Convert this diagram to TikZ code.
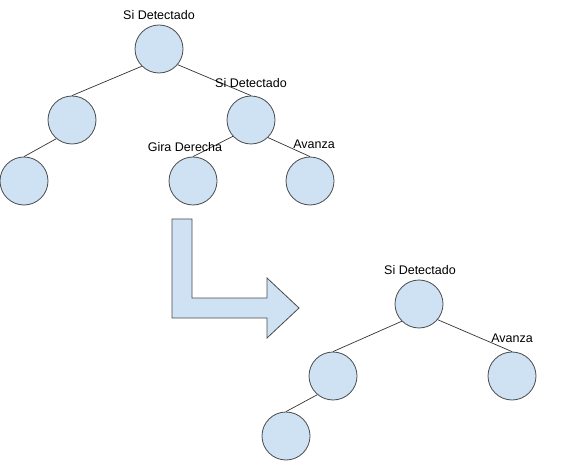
\documentclass[tikz,border=0pt]{standalone}
\usepackage{fontspec}
\setmainfont{Liberation Sans}
\definecolor{nodefill}{HTML}{CFE2F3}
\definecolor{nodeline}{HTML}{4A4A4A}
\definecolor{edgeline}{HTML}{333333}
\begin{document}
\begin{tikzpicture}[x=1pt,y=-1pt,
  tnode/.style={circle,draw=nodeline,fill=nodefill,line width=0.8pt,minimum size=48pt,inner sep=0pt},
  edge/.style={draw=edgeline,line width=0.7pt},
  lbl/.style={inner sep=0pt,font=\fontsize{12.5pt}{14pt}\selectfont}]
\useasboundingbox (0,0) rectangle (567,462);
% tree 1
\node[tnode] (r1) at (159,49) {};
\node[tnode] (l1) at (72,120) {};
\node[tnode] (rr1) at (251,120) {};
\node[tnode] (ll1) at (24,181) {};
\node[tnode] (g1) at (193,181) {};
\node[tnode] (a1) at (310,181) {};
\draw[edge] (r1.225) -- (l1.north);
\draw[edge] (r1.-40) -- (rr1.north);
\draw[edge] (l1.230) -- (ll1.north);
\draw[edge] (rr1.222) -- (g1.north);
\draw[edge] (rr1.-46) -- (a1.north);
\node[lbl] (t1) at (159,15) {Si Detectado};
\node[lbl] (t2) at (251,83) {Si Detectado};
\node[lbl] (t3) at (185,147) {Gira Derecha};
\node[lbl] (t4) at (314,144) {Avanza};
% arrow
\draw[draw=nodeline,fill=nodefill,line width=0.8pt,line join=miter]
  (172,219) -- (192,219) -- (192,298) -- (267,298) -- (267,278) -- (299,308)
  -- (267,338) -- (267,318) -- (172,318) -- cycle;
% tree 2
\node[tnode] (r2) at (419,304) {};
\node[tnode] (l2) at (333,376) {};
\node[tnode] (rr2) at (512,376) {};
\node[tnode] (ll2) at (286,436) {};
\draw[edge] (r2.225) -- (l2.north);
\draw[edge] (r2.-40) -- (rr2.north);
\draw[edge] (l2.230) -- (ll2.north);
\node[lbl] (t5) at (420,270) {Si Detectado};
\node[lbl] (t6) at (512,338) {Avanza};
\end{tikzpicture}
\end{document}
